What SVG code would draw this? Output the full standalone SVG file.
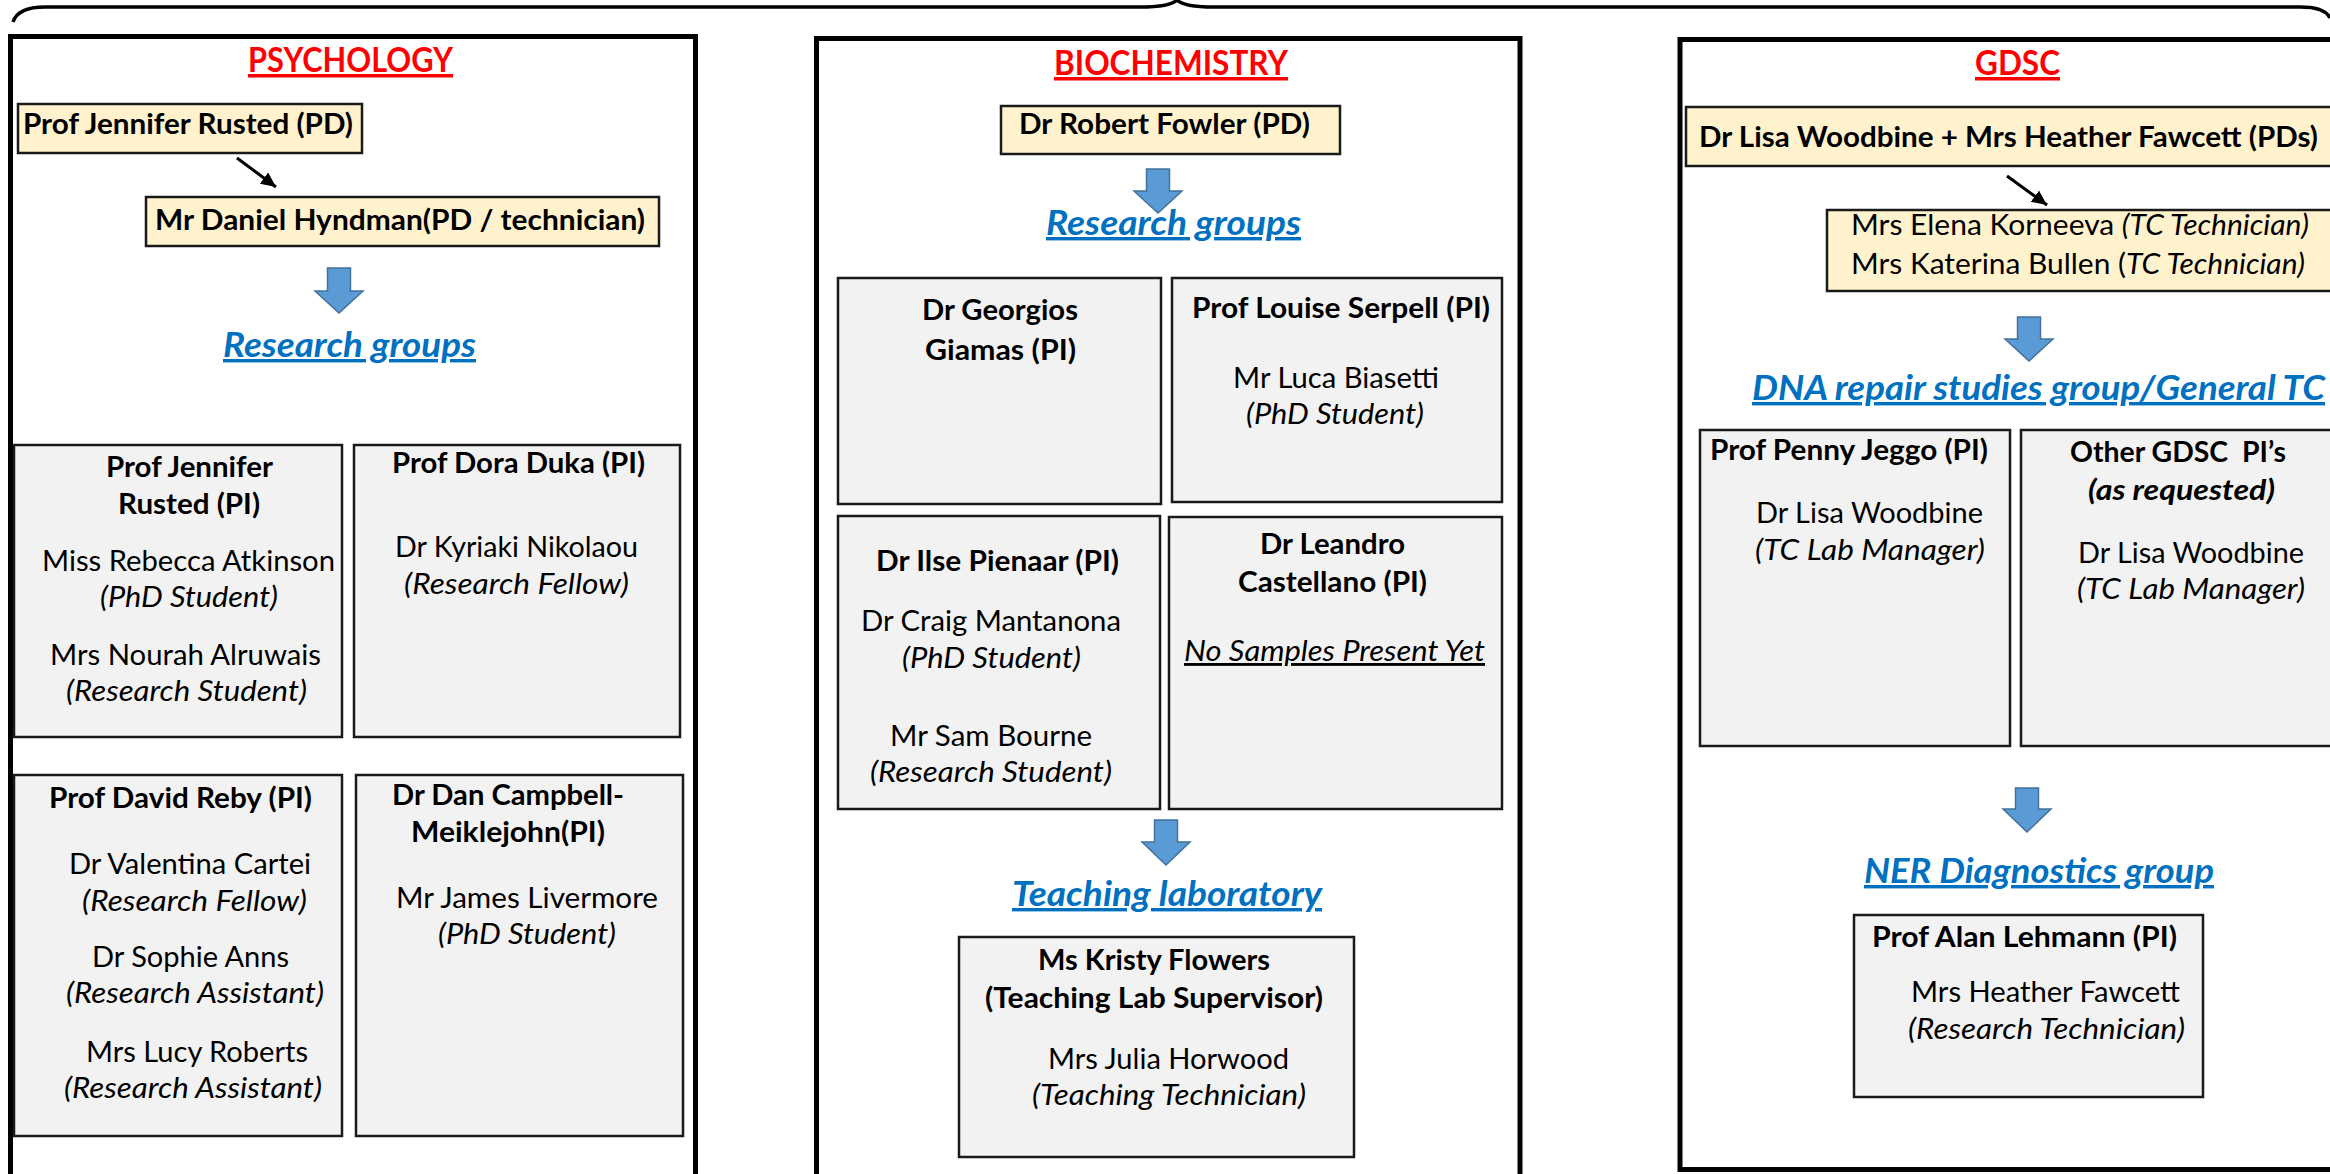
<svg xmlns="http://www.w3.org/2000/svg" width="2330" height="1174" viewBox="0 0 2330 1174">
<style>
.frame{fill:none;stroke:#000;stroke-width:5}
.pd{fill:#FFF2CC;stroke:#1a1a1a;stroke-width:2.5}
.grp{fill:#F2F2F2;stroke:#1a1a1a;stroke-width:2.5}
.blk{fill:#5B9BD5;stroke:#41719C;stroke-width:1.5}
.con{stroke:#000;stroke-width:3;fill:none}
text{font-family:Lato,"Open Sans","Liberation Sans",sans-serif;font-size:28.5px;fill:#000}
.b{font-weight:bold}
.i{font-style:italic}
.u{text-decoration:underline}
.title{fill:#FF0000;font-weight:bold;font-size:35px;text-decoration:underline}
.sect{fill:#0070C0;font-weight:bold;font-style:italic;font-size:34px;text-decoration:underline}
</style>
<defs>
<marker id="ah" markerUnits="userSpaceOnUse" markerWidth="16" markerHeight="14" refX="15" refY="7" orient="auto">
<path d="M0,0 L15,7 L0,14 Z" fill="#000"/>
</marker>
</defs>
<rect width="2330" height="1174" fill="#fff"/>
<path d="M13 22 Q18 7 45 7 L1140 7 Q1170 7 1177 0 Q1184 7 1214 7 L2300 7 Q2325 7 2330 18" fill="none" stroke="#000" stroke-width="3.5"/>

<g id="psychology">
<rect class="frame" x="10.5" y="36.5" width="685" height="1200"/>
<text class="title" x="248" y="72" textLength="205" lengthAdjust="spacingAndGlyphs">PSYCHOLOGY</text>
</g>
<g id="psy-pd-rusted">
<rect class="pd" x="18" y="104" width="344" height="49"/>
<text class="b" x="23" y="134" textLength="330" lengthAdjust="spacingAndGlyphs">Prof Jennifer Rusted (PD)</text>
</g>
<g id="psy-pd-hyndman">
<rect class="pd" x="146" y="197" width="513" height="49"/>
<text class="b" x="155" y="230" textLength="490" lengthAdjust="spacingAndGlyphs">Mr Daniel Hyndman(PD / technician)</text>
</g>
<g id="psy-research-groups">
<text class="sect" x="223" y="357" textLength="253" lengthAdjust="spacingAndGlyphs">Research groups</text>
</g>
<g id="psy-rusted">
<rect class="grp" x="14" y="445" width="328" height="292"/>
<text class="b" x="106" y="477" textLength="167" lengthAdjust="spacingAndGlyphs">Prof Jennifer</text>
<text class="b" x="118" y="514" textLength="142" lengthAdjust="spacingAndGlyphs">Rusted (PI)</text>
<text x="42" y="571" textLength="293" lengthAdjust="spacingAndGlyphs">Miss Rebecca Atkinson</text>
<text class="i" x="100" y="607" textLength="178" lengthAdjust="spacingAndGlyphs">(PhD Student)</text>
<text x="50" y="665" textLength="271" lengthAdjust="spacingAndGlyphs">Mrs Nourah Alruwais</text>
<text class="i" x="66" y="701" textLength="241" lengthAdjust="spacingAndGlyphs">(Research Student)</text>
</g>
<g id="psy-duka">
<rect class="grp" x="354" y="445" width="326" height="292"/>
<text class="b" x="392" y="473" textLength="253" lengthAdjust="spacingAndGlyphs">Prof Dora Duka (PI)</text>
<text x="395" y="557" textLength="243" lengthAdjust="spacingAndGlyphs">Dr Kyriaki Nikolaou</text>
<text class="i" x="404" y="594" textLength="225" lengthAdjust="spacingAndGlyphs">(Research Fellow)</text>
</g>
<g id="psy-reby">
<rect class="grp" x="14" y="775" width="328" height="361"/>
<text class="b" x="49" y="808" textLength="263" lengthAdjust="spacingAndGlyphs">Prof David Reby (PI)</text>
<text x="69" y="874" textLength="242" lengthAdjust="spacingAndGlyphs">Dr Valentina Cartei</text>
<text class="i" x="82" y="911" textLength="225" lengthAdjust="spacingAndGlyphs">(Research Fellow)</text>
<text x="92" y="967" textLength="197" lengthAdjust="spacingAndGlyphs">Dr Sophie Anns</text>
<text class="i" x="66" y="1003" textLength="258" lengthAdjust="spacingAndGlyphs">(Research Assistant)</text>
<text x="86" y="1062" textLength="222" lengthAdjust="spacingAndGlyphs">Mrs Lucy Roberts</text>
<text class="i" x="64" y="1098" textLength="258" lengthAdjust="spacingAndGlyphs">(Research Assistant)</text>
</g>
<g id="psy-campbell">
<rect class="grp" x="356" y="775" width="327" height="361"/>
<text class="b" x="392" y="805" textLength="232" lengthAdjust="spacingAndGlyphs">Dr Dan Campbell-</text>
<text class="b" x="411" y="842" textLength="194" lengthAdjust="spacingAndGlyphs">Meiklejohn(PI)</text>
<text x="396" y="908" textLength="262" lengthAdjust="spacingAndGlyphs">Mr James Livermore</text>
<text class="i" x="438" y="944" textLength="178" lengthAdjust="spacingAndGlyphs">(PhD Student)</text>
</g>

<g id="biochemistry">
<rect class="frame" x="816.5" y="38.5" width="703.5" height="1200"/>
<text class="title" x="1054" y="75" textLength="234" lengthAdjust="spacingAndGlyphs">BIOCHEMISTRY</text>
</g>
<g id="bio-pd-fowler">
<rect class="pd" x="1001" y="106" width="339" height="48"/>
<text class="b" x="1019" y="134" textLength="291" lengthAdjust="spacingAndGlyphs">Dr Robert Fowler (PD)</text>
</g>
<g id="bio-research-groups">
<text class="sect" x="1046" y="235" textLength="255" lengthAdjust="spacingAndGlyphs">Research groups</text>
</g>
<g id="bio-giamas">
<rect class="grp" x="838" y="278" width="323" height="226"/>
<text class="b" x="922" y="320" textLength="156" lengthAdjust="spacingAndGlyphs">Dr Georgios</text>
<text class="b" x="925" y="360" textLength="151" lengthAdjust="spacingAndGlyphs">Giamas (PI)</text>
</g>
<g id="bio-serpell">
<rect class="grp" x="1172" y="278" width="330" height="224"/>
<text class="b" x="1192" y="318" textLength="298" lengthAdjust="spacingAndGlyphs">Prof Louise Serpell (PI)</text>
<text x="1233" y="388" textLength="206" lengthAdjust="spacingAndGlyphs">Mr Luca Biasetti</text>
<text class="i" x="1246" y="424" textLength="178" lengthAdjust="spacingAndGlyphs">(PhD Student)</text>
</g>
<g id="bio-pienaar">
<rect class="grp" x="838" y="516" width="322" height="293"/>
<text class="b" x="876" y="571" textLength="243" lengthAdjust="spacingAndGlyphs">Dr Ilse Pienaar (PI)</text>
<text x="861" y="631" textLength="260" lengthAdjust="spacingAndGlyphs">Dr Craig Mantanona</text>
<text class="i" x="902" y="668" textLength="179" lengthAdjust="spacingAndGlyphs">(PhD Student)</text>
<text x="890" y="746" textLength="202" lengthAdjust="spacingAndGlyphs">Mr Sam Bourne</text>
<text class="i" x="870" y="782" textLength="242" lengthAdjust="spacingAndGlyphs">(Research Student)</text>
</g>
<g id="bio-castellano">
<rect class="grp" x="1169" y="517" width="333" height="292"/>
<text class="b" x="1260" y="554" textLength="145" lengthAdjust="spacingAndGlyphs">Dr Leandro</text>
<text class="b" x="1238" y="592" textLength="189" lengthAdjust="spacingAndGlyphs">Castellano (PI)</text>
<text class="i u" x="1184" y="661" textLength="301" lengthAdjust="spacingAndGlyphs">No Samples Present Yet</text>
</g>
<g id="bio-teaching-lab">
<text class="sect" x="1012" y="906" textLength="310" lengthAdjust="spacingAndGlyphs">Teaching laboratory</text>
</g>
<g id="bio-flowers">
<rect class="grp" x="959" y="937" width="395" height="220"/>
<text class="b" x="1038" y="970" textLength="232" lengthAdjust="spacingAndGlyphs">Ms Kristy Flowers</text>
<text class="b" x="985" y="1008" textLength="338" lengthAdjust="spacingAndGlyphs">(Teaching Lab Supervisor)</text>
<text x="1048" y="1069" textLength="241" lengthAdjust="spacingAndGlyphs">Mrs Julia Horwood</text>
<text class="i" x="1032" y="1105" textLength="274" lengthAdjust="spacingAndGlyphs">(Teaching Technician)</text>
</g>

<g id="gdsc">
<rect class="frame" x="1680" y="39.5" width="700" height="1130"/>
<text class="title" x="1975" y="75" textLength="85" lengthAdjust="spacingAndGlyphs">GDSC</text>
</g>
<g id="gdsc-pds">
<rect class="pd" x="1686" y="107" width="700" height="59"/>
<text class="b" x="1699" y="147" textLength="619" lengthAdjust="spacingAndGlyphs">Dr Lisa Woodbine + Mrs Heather Fawcett (PDs)</text>
</g>
<g id="gdsc-technicians">
<rect class="pd" x="1827" y="210" width="600" height="81"/>
<text x="1851" y="235" textLength="458" lengthAdjust="spacingAndGlyphs">Mrs Elena Korneeva <tspan class="i">(TC Technician)</tspan></text>
<text x="1851" y="274" textLength="454" lengthAdjust="spacingAndGlyphs">Mrs Katerina Bullen (<tspan class="i">TC Technician)</tspan></text>
</g>
<g id="gdsc-dna-repair">
<text class="sect" x="1752" y="400" textLength="573" lengthAdjust="spacingAndGlyphs">DNA repair studies group/General TC</text>
</g>
<g id="gdsc-jeggo">
<rect class="grp" x="1700" y="430" width="310" height="316"/>
<text class="b" x="1710" y="460" textLength="278" lengthAdjust="spacingAndGlyphs">Prof Penny Jeggo (PI)</text>
<text x="1756" y="523" textLength="227" lengthAdjust="spacingAndGlyphs">Dr Lisa Woodbine</text>
<text class="i" x="1755" y="560" textLength="230" lengthAdjust="spacingAndGlyphs">(TC Lab Manager)</text>
</g>
<g id="gdsc-other">
<rect class="grp" x="2021" y="430" width="400" height="316"/>
<text class="b" x="2070" y="462" textLength="216" lengthAdjust="spacingAndGlyphs" xml:space="preserve">Other GDSC  PI’s</text>
<text class="b i" x="2088" y="500" textLength="187" lengthAdjust="spacingAndGlyphs">(as requested)</text>
<text x="2078" y="563" textLength="226" lengthAdjust="spacingAndGlyphs">Dr Lisa Woodbine</text>
<text class="i" x="2077" y="599" textLength="228" lengthAdjust="spacingAndGlyphs">(TC Lab Manager)</text>
</g>
<g id="gdsc-ner">
<text class="sect" x="1864" y="883" textLength="350" lengthAdjust="spacingAndGlyphs">NER Diagnostics group</text>
</g>
<g id="gdsc-lehmann">
<rect class="grp" x="1854" y="915" width="349" height="182"/>
<text class="b" x="1872" y="947" textLength="305" lengthAdjust="spacingAndGlyphs">Prof Alan Lehmann (PI)</text>
<text x="1911" y="1002" textLength="269" lengthAdjust="spacingAndGlyphs">Mrs Heather Fawcett</text>
<text class="i" x="1908" y="1039" textLength="277" lengthAdjust="spacingAndGlyphs">(Research Technician)</text>
</g>

<g id="connectors">
<line class="con" x1="237" y1="158" x2="276" y2="187" marker-end="url(#ah)"/>
<line class="con" x1="2007" y1="176" x2="2047" y2="205" marker-end="url(#ah)"/>
<path class="blk" d="M327.5 268 H350.5 V291 H363 L339 313 L315 291 H327.5 Z"/>
<path class="blk" d="M1146.5 169 H1169.5 V191 H1182 L1158 213 L1134 191 H1146.5 Z"/>
<path class="blk" d="M1154.5 820 H1177.5 V842 H1190 L1166 865 L1142 842 H1154.5 Z"/>
<path class="blk" d="M2017.5 317 H2040.5 V339 H2053 L2029 361 L2005 339 H2017.5 Z"/>
<path class="blk" d="M2015.5 788 H2038.5 V809 H2051 L2027 832 L2003 809 H2015.5 Z"/>
</g>
</svg>
